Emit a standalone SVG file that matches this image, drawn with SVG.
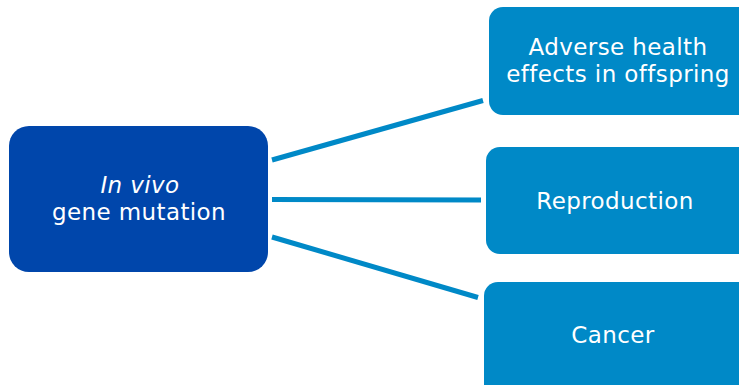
<svg xmlns="http://www.w3.org/2000/svg" width="739" height="385" viewBox="0 0 739 385">
<style>
.t{font-family:"DejaVu Sans","Verdana",sans-serif;font-size:23px;letter-spacing:0.4px;fill:#ffffff;text-anchor:middle}
.r{fill:#0089C7}
.c{stroke:#0089C7;stroke-width:5;fill:none}
</style>
<rect width="739" height="385" fill="#ffffff"/>
<g id="connectors">
<line class="c" x1="272" y1="160" x2="483" y2="100.5"/>
<line class="c" x1="272" y1="199.5" x2="481" y2="200"/>
<line class="c" x1="272" y1="237" x2="478" y2="297.5"/>
</g>
<g id="source">
<rect x="9" y="126" width="259" height="146" rx="20" fill="#0046AB"/>
<text class="t" x="140" y="193" font-style="italic">In vivo</text>
<text class="t" x="139" y="220">gene mutation</text>
</g>
<g id="offspring">
<rect class="r" x="489" y="7" width="270" height="108" rx="14"/>
<text class="t" x="618" y="55">Adverse health</text>
<text class="t" x="618" y="82">effects in offspring</text>
</g>
<g id="reproduction">
<rect class="r" x="486" y="147" width="273" height="107" rx="14"/>
<text class="t" x="615" y="209">Reproduction</text>
</g>
<g id="cancer">
<rect class="r" x="484" y="282" width="275" height="120" rx="14"/>
<text class="t" x="613" y="343">Cancer</text>
</g>
</svg>
